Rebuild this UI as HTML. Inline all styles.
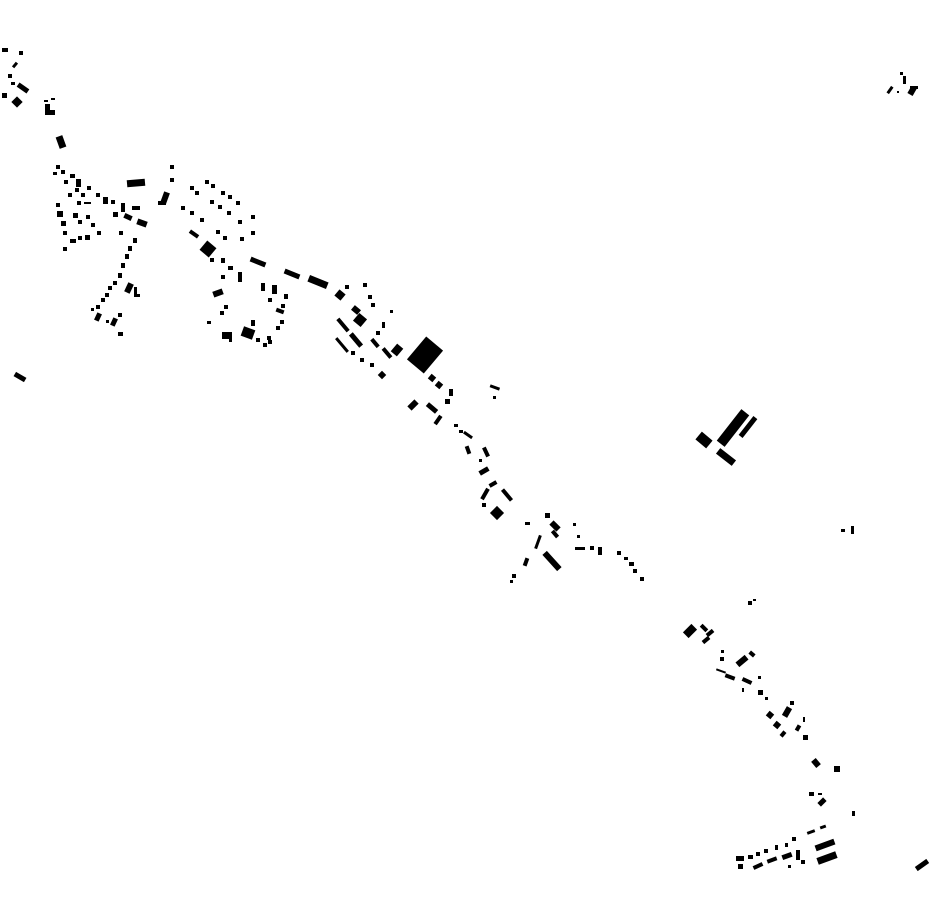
<!DOCTYPE html>
<html><head><meta charset="utf-8"><style>html,body{margin:0;padding:0;background:#fff}svg{display:block}</style></head>
<body>
<svg width="930" height="924" viewBox="0 0 930 924" xmlns="http://www.w3.org/2000/svg">
<g fill="#000">
<!-- top-left -->
<rect x="2" y="48" width="6" height="4"/>
<rect x="19" y="51" width="4" height="4"/>
<rect transform="translate(15 65) rotate(-50)" x="-3" y="-1.5" width="6" height="3"/>
<rect x="8" y="74" width="4" height="4"/>
<rect x="11" y="82" width="4" height="3"/>
<rect transform="translate(23 88) rotate(35)" x="-6" y="-2.5" width="12" height="5"/>
<rect x="2" y="93" width="5" height="5"/>
<rect transform="translate(17 102) rotate(45)" x="-4" y="-4" width="8" height="8"/>
<rect x="45" y="104" width="5" height="10"/>
<rect x="45" y="110" width="10" height="5"/>
<rect x="44" y="100" width="4" height="2"/>
<rect x="51" y="98" width="4" height="2"/>
<rect transform="translate(61 142) rotate(-20)" x="-3.5" y="-6" width="7" height="12"/>
<rect transform="translate(20 377) rotate(30)" x="-6" y="-2.5" width="12" height="5"/>
<!-- left cluster -->
<rect x="56" y="165" width="4" height="4"/><rect x="53" y="172" width="4" height="3"/><rect x="61" y="170" width="4" height="4"/>
<rect x="70" y="174" width="5" height="4"/><rect x="64" y="180" width="4" height="4"/><rect x="76" y="179" width="5" height="8"/>
<rect x="75" y="188" width="4" height="4"/><rect x="87" y="186" width="4" height="4"/><rect x="68" y="193" width="4" height="4"/>
<rect x="81" y="193" width="4" height="4"/><rect x="77" y="201" width="4" height="4"/><rect x="84" y="202" width="7" height="2"/>
<rect x="96" y="193" width="4" height="4"/><rect x="103" y="197" width="5" height="7"/><rect x="111" y="200" width="4" height="4"/>
<rect x="121" y="203" width="4" height="9"/><rect x="132" y="206" width="8" height="4"/><rect x="113" y="212" width="5" height="5"/>
<rect transform="translate(128 217) rotate(25)" x="-4" y="-2.5" width="8" height="5"/>
<rect transform="translate(142 223) rotate(20)" x="-5" y="-3" width="10" height="6"/>
<rect x="56" y="203" width="4" height="4"/><rect x="57" y="211" width="6" height="6"/><rect x="73" y="213" width="5" height="5"/>
<rect x="78" y="220" width="4" height="4"/><rect x="86" y="215" width="4" height="4"/><rect x="91" y="223" width="4" height="4"/>
<rect x="61" y="221" width="5" height="5"/><rect x="63" y="231" width="4" height="4"/><rect x="97" y="231" width="4" height="4"/>
<rect x="70" y="239" width="6" height="4"/><rect x="78" y="236" width="4" height="4"/><rect x="85" y="235" width="5" height="5"/>
<rect x="63" y="247" width="4" height="4"/><rect x="119" y="231" width="4" height="4"/>
<rect transform="translate(136 183) rotate(-5)" x="-9" y="-3.5" width="18" height="7"/>
<!-- street row -->
<rect x="133" y="238" width="4" height="5"/><rect x="128" y="246" width="4" height="5"/><rect x="125" y="254" width="4" height="5"/>
<rect x="121" y="263" width="4" height="5"/><rect x="118" y="273" width="4" height="5"/><rect x="113" y="281" width="4" height="4"/>
<rect x="108" y="286" width="4" height="4"/><rect x="105" y="293" width="4" height="4"/><rect x="101" y="298" width="4" height="4"/>
<rect x="96" y="305" width="4" height="4"/><rect x="91" y="308" width="3" height="3"/>
<rect transform="translate(98 317) rotate(25)" x="-2.5" y="-4" width="5" height="8"/>
<rect transform="translate(114 322) rotate(25)" x="-2.5" y="-4" width="5" height="8"/>
<rect x="118" y="332" width="5" height="4"/><rect x="106" y="320" width="3" height="3"/>
<rect x="118" y="313" width="4" height="4"/>
<rect transform="translate(129 288) rotate(25)" x="-3" y="-5" width="6" height="10"/>
<rect x="134" y="287" width="3" height="9"/><rect x="134" y="294" width="6" height="3"/>
<!-- second cluster -->
<rect x="170" y="165" width="4" height="4"/><rect x="170" y="178" width="4" height="4"/>
<rect transform="translate(165 198) rotate(20)" x="-3" y="-6" width="6" height="12"/><rect x="158" y="201" width="8" height="4"/>
<rect x="190" y="186" width="4" height="4"/><rect x="195" y="191" width="4" height="4"/><rect x="205" y="180" width="4" height="4"/>
<rect x="211" y="184" width="4" height="4"/><rect x="221" y="191" width="4" height="4"/><rect x="228" y="195" width="4" height="4"/>
<rect x="236" y="201" width="4" height="4"/><rect x="181" y="206" width="4" height="4"/><rect x="190" y="211" width="4" height="4"/>
<rect x="200" y="218" width="4" height="4"/><rect x="210" y="200" width="4" height="4"/><rect x="218" y="205" width="4" height="4"/>
<rect x="227" y="211" width="4" height="4"/><rect x="238" y="220" width="4" height="4"/><rect x="251" y="215" width="4" height="4"/>
<rect transform="translate(194 234) rotate(35)" x="-5" y="-2" width="10" height="4"/>
<rect x="216" y="230" width="4" height="4"/><rect x="223" y="236" width="4" height="4"/><rect x="240" y="237" width="4" height="4"/><rect x="251" y="231" width="4" height="4"/>
<rect transform="translate(208 249) rotate(40)" x="-6" y="-6" width="12" height="12"/>
<rect x="210" y="258" width="4" height="4"/><rect x="221" y="258" width="4" height="5"/><rect x="228" y="266" width="5" height="4"/>
<rect x="238" y="272" width="4" height="10"/><rect x="221" y="275" width="4" height="4"/>
<rect transform="translate(218 293) rotate(-20)" x="-5" y="-3" width="10" height="6"/>
<rect x="224" y="305" width="4" height="4"/><rect x="220" y="311" width="4" height="4"/><rect x="207" y="321" width="4" height="3"/>
<rect x="222" y="332" width="10" height="7"/><rect x="229" y="338" width="3" height="4"/>
<rect transform="translate(248 333) rotate(20)" x="-6" y="-5" width="12" height="10"/><rect x="251" y="320" width="4" height="6"/>
<rect x="256" y="338" width="4" height="4"/><rect x="263" y="343" width="4" height="4"/><rect x="267" y="336" width="4" height="4"/>
<rect x="261" y="283" width="4" height="8"/><rect x="268" y="298" width="4" height="4"/>
<rect x="272" y="285" width="5" height="9"/><rect x="284" y="294" width="4" height="5"/><rect x="281" y="304" width="4" height="4"/>
<rect transform="translate(280 311) rotate(20)" x="-4" y="-2" width="8" height="4"/><rect x="280" y="320" width="4" height="4"/>
<rect x="276" y="326" width="4" height="4"/><rect x="268" y="340" width="4" height="4"/>
<rect transform="translate(258 262) rotate(22)" x="-8" y="-2.5" width="16" height="5"/>
<rect transform="translate(292 274) rotate(22)" x="-8" y="-2.5" width="16" height="5"/>
<rect transform="translate(318 282) rotate(22)" x="-10" y="-3.5" width="20" height="7"/>
<!-- central diagonal cluster -->
<rect transform="translate(340 295) rotate(40)" x="-4" y="-4" width="8" height="8"/>
<rect x="345" y="285" width="4" height="4"/><rect x="363" y="283" width="4" height="4"/><rect x="368" y="295" width="4" height="4"/>
<rect x="371" y="303" width="4" height="4"/><rect x="390" y="310" width="3" height="3"/>
<rect transform="translate(356 310) rotate(40)" x="-4" y="-3" width="8" height="6"/>
<rect transform="translate(360 320) rotate(40)" x="-5" y="-5" width="10" height="10"/>
<rect transform="translate(343 325) rotate(50)" x="-8" y="-2" width="16" height="4"/>
<rect transform="translate(356 340) rotate(50)" x="-8" y="-2.5" width="16" height="5"/>
<rect transform="translate(342 345) rotate(50)" x="-9" y="-1.5" width="18" height="3"/>
<rect x="351" y="351" width="4" height="4"/><rect x="360" y="358" width="4" height="4"/><rect x="370" y="363" width="4" height="4"/>
<rect transform="translate(382 375) rotate(45)" x="-3" y="-3" width="6" height="6"/>
<rect x="376" y="331" width="4" height="4"/><rect x="382" y="322" width="3" height="6"/>
<rect transform="translate(375 343) rotate(50)" x="-5" y="-2" width="10" height="4"/>
<rect transform="translate(387 353) rotate(50)" x="-6" y="-2" width="12" height="4"/>
<rect transform="translate(397 350) rotate(40)" x="-4" y="-5" width="8" height="10"/>
<rect transform="translate(425 355) rotate(40)" x="-11" y="-15" width="22" height="30"/>
<rect transform="translate(432 378) rotate(40)" x="-3" y="-3" width="6" height="6"/>
<rect transform="translate(439 385) rotate(40)" x="-3" y="-3" width="6" height="6"/>
<rect x="449" y="389" width="4" height="7"/><rect x="445" y="399" width="5" height="5"/>
<rect transform="translate(413 405) rotate(45)" x="-3" y="-5" width="6" height="10"/>
<rect transform="translate(432 408) rotate(40)" x="-6" y="-2.5" width="12" height="5"/>
<rect transform="translate(438 420) rotate(35)" x="-2" y="-5" width="4" height="10"/>
<rect x="490" y="386" width="10" height="3" transform="rotate(20 495 387)"/><rect x="493" y="396" width="3" height="3"/>
<rect x="454" y="424" width="4" height="3"/><rect x="459" y="430" width="4" height="3"/>
<rect transform="translate(468 435) rotate(35)" x="-5" y="-1.5" width="10" height="3"/>
<rect transform="translate(468 450) rotate(-20)" x="-2" y="-4" width="4" height="8"/>
<rect transform="translate(486 452) rotate(-25)" x="-2" y="-5" width="4" height="10"/>
<rect x="479" y="459" width="3" height="3"/>
<rect transform="translate(484 471) rotate(-30)" x="-5" y="-2.5" width="10" height="5"/>
<rect transform="translate(493 484) rotate(-30)" x="-4" y="-2" width="8" height="4"/>
<rect transform="translate(485 494) rotate(30)" x="-2" y="-6" width="4" height="12"/>
<rect transform="translate(507 495) rotate(-40)" x="-2" y="-7" width="4" height="14"/>
<rect x="482" y="503" width="4" height="4"/>
<rect transform="translate(497 513) rotate(45)" x="-5" y="-5" width="10" height="10"/>
<rect x="545" y="513" width="5" height="5"/><rect x="525" y="522" width="5" height="3"/>
<rect transform="translate(555 526) rotate(45)" x="-5" y="-3" width="10" height="6"/><rect x="553" y="530" width="4" height="8" transform="rotate(-40 555 534)"/>
<rect transform="translate(538 542) rotate(20)" x="-1.5" y="-7" width="3" height="14"/>
<rect transform="translate(526 562) rotate(20)" x="-2" y="-4" width="4" height="8"/>
<rect x="512" y="574" width="4" height="4"/><rect x="510" y="580" width="3" height="3"/>
<rect transform="translate(552 561) rotate(-42)" x="-3" y="-11" width="6" height="22"/>
<rect x="573" y="523" width="3" height="3"/><rect x="577" y="535" width="3" height="3"/>
<rect x="575" y="547" width="10" height="3"/><rect x="590" y="546" width="4" height="4"/><rect x="598" y="547" width="4" height="8"/>
<rect x="617" y="551" width="4" height="4"/><rect x="624" y="557" width="4" height="3"/><rect x="629" y="562" width="5" height="4"/>
<rect x="633" y="569" width="4" height="4"/><rect x="640" y="577" width="4" height="4"/>
<!-- right big building -->
<rect transform="translate(733 428) rotate(38)" x="-5" y="-20" width="10" height="40"/>
<rect transform="translate(748 427) rotate(38)" x="-2.5" y="-12" width="5" height="24"/>
<rect transform="translate(704 440) rotate(40)" x="-7" y="-5" width="14" height="10"/>
<rect transform="translate(726 457) rotate(38)" x="-10" y="-3.5" width="20" height="7"/>
<!-- top right -->
<rect x="900" y="72" width="3" height="3"/><rect x="903" y="76" width="3" height="8"/>
<rect transform="translate(890 90) rotate(35)" x="-1.5" y="-4" width="3" height="8"/><rect x="897" y="91" width="2" height="2"/>
<rect transform="translate(912 91) rotate(30)" x="-3" y="-4" width="6" height="8"/><rect x="910" y="86" width="8" height="3"/>
<rect x="841" y="529" width="4" height="3"/><rect x="851" y="526" width="3" height="8"/>
<rect x="748" y="601" width="4" height="4"/><rect x="753" y="599" width="3" height="2"/>
<!-- southeast -->
<rect transform="translate(690 631) rotate(45)" x="-4" y="-6" width="8" height="12"/>
<rect transform="translate(704 628) rotate(45)" x="-4" y="-2" width="8" height="4"/>
<rect transform="translate(710 633) rotate(-40)" x="-4" y="-2" width="8" height="4"/>
<rect transform="translate(706 640) rotate(-40)" x="-4" y="-2" width="8" height="4"/>
<rect x="721" y="650" width="3" height="3"/><rect x="720" y="657" width="4" height="4"/>
<rect transform="translate(742 661) rotate(-40)" x="-6" y="-3" width="12" height="6"/>
<rect transform="translate(752 654) rotate(40)" x="-3" y="-2" width="6" height="4"/>
<rect transform="translate(721 671) rotate(20)" x="-5" y="-1" width="10" height="2"/>
<rect transform="translate(730 677) rotate(20)" x="-5" y="-2" width="10" height="4"/>
<rect transform="translate(747 681) rotate(25)" x="-5" y="-2" width="10" height="4"/>
<rect x="742" y="688" width="2" height="4"/><rect x="758" y="676" width="3" height="3"/>
<rect x="758" y="690" width="5" height="5"/><rect x="765" y="697" width="3" height="3"/>
<rect transform="translate(770 715) rotate(40)" x="-3" y="-3" width="6" height="6"/>
<rect transform="translate(777 725) rotate(40)" x="-3" y="-3" width="6" height="6"/>
<rect transform="translate(783 734) rotate(40)" x="-2" y="-3" width="4" height="6"/>
<rect transform="translate(787 712) rotate(30)" x="-3" y="-5" width="6" height="10"/>
<rect x="790" y="701" width="4" height="4"/>
<rect transform="translate(798 728) rotate(30)" x="-2" y="-3" width="4" height="6"/>
<rect x="803" y="717" width="2" height="5"/><rect x="803" y="735" width="5" height="5"/>
<rect transform="translate(816 763) rotate(-40)" x="-3" y="-4" width="6" height="8"/>
<rect x="834" y="766" width="6" height="6"/>
<rect x="809" y="792" width="5" height="4"/><rect x="818" y="793" width="4" height="2"/>
<rect transform="translate(822 802) rotate(45)" x="-2.5" y="-4" width="5" height="8"/>
<rect x="852" y="811" width="3" height="5"/>
<rect transform="translate(823 827) rotate(-20)" x="-3" y="-1.5" width="6" height="3"/>
<rect transform="translate(811 832) rotate(-20)" x="-4" y="-1.5" width="8" height="3"/>
<rect transform="translate(825 845) rotate(-20)" x="-10" y="-3" width="20" height="6"/>
<rect transform="translate(827 858) rotate(-20)" x="-10" y="-3.5" width="20" height="7"/>
<rect x="736" y="856" width="8" height="5"/><rect x="738" y="864" width="5" height="5"/>
<rect x="748" y="855" width="5" height="4"/><rect x="756" y="852" width="4" height="4"/><rect x="764" y="849" width="4" height="4"/>
<rect x="775" y="845" width="3" height="5"/><rect x="785" y="843" width="3" height="4"/><rect x="792" y="837" width="4" height="4"/>
<rect transform="translate(758 866) rotate(-25)" x="-5" y="-2" width="10" height="4"/>
<rect transform="translate(772 860) rotate(-20)" x="-5" y="-2" width="10" height="4"/>
<rect transform="translate(787 856) rotate(-20)" x="-5" y="-2.5" width="10" height="5"/>
<rect x="796" y="850" width="4" height="10"/><rect x="788" y="865" width="3" height="3"/><rect x="801" y="860" width="4" height="4"/>
<rect transform="translate(922 865) rotate(-35)" x="-7" y="-2.5" width="14" height="5"/>
</g>
</svg>
</body></html>
